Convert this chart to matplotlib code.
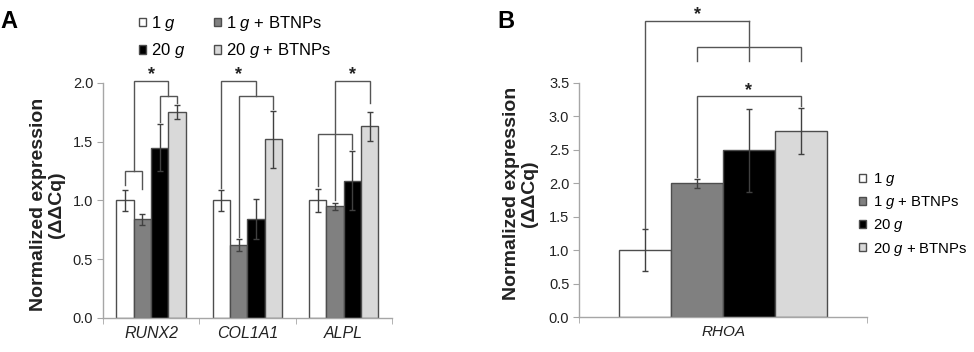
import matplotlib
matplotlib.use("Agg")
import matplotlib.pyplot as plt
import numpy as np

plt.rcParams.update({"font.family": ["Liberation Sans", "DejaVu Sans"],
                     "mathtext.fontset": "custom",
                     "mathtext.rm": "Liberation Sans",
                     "mathtext.it": "Liberation Sans:italic"})

# ---- data ----
groups = ["1 $g$", "1 $g$ + BTNPs", "20 $g$", "20 $g$ + BTNPs"]
colors = ["#ffffff", "#808080", "#000000", "#d9d9d9"]

genes_a = ["RUNX2", "COL1A1", "ALPL"]
a_1g = [1.00, 1.00, 1.00]
a_1g_err = [0.09, 0.09, 0.10]
a_1g_bt = [0.84, 0.62, 0.95]
a_1g_bt_err = [0.045, 0.05, 0.03]
a_20g = [1.45, 0.84, 1.17]
a_20g_err = [0.20, 0.17, 0.25]
a_20g_bt = [1.75, 1.52, 1.63]
a_20g_bt_err = [0.06, 0.24, 0.12]

genes_b = ["RHOA"]
b_vals = [1.00, 2.00, 2.49, 2.78]
b_errs = [0.31, 0.07, 0.62, 0.35]

a_vals = [a_1g, a_1g_bt, a_20g, a_20g_bt]
a_errs = [a_1g_err, a_1g_bt_err, a_20g_err, a_20g_bt_err]

# ---- style ----
INK = "#222222"; EDGE = "#4d4d4d"; SPINE = "#a6a6a6"; LINE = "#555555"
off = [-0.27, -0.09, 0.09, 0.27]
W = 0.18

fig = plt.figure(figsize=(9.74, 3.52), dpi=100)
axA = fig.add_axes([0.1057, 0.0966, 0.2967, 0.7344])
axB = fig.add_axes([0.5945, 0.0994, 0.2957, 0.8835])


def style(ax, n, ytop, ymax, step):
    ax.set_xlim(-0.5, n - 0.5)
    ax.set_ylim(0, ymax)
    for s in ("top", "right"):
        ax.spines[s].set_visible(False)
    for s in ("left", "bottom"):
        ax.spines[s].set_color(SPINE)
        ax.spines[s].set_linewidth(1)
    ax.spines["left"].set_bounds(0, ytop)
    ax.set_yticks(np.arange(0, ytop + 0.01, step))
    ax.set_yticklabels([f"{t:.1f}" for t in np.arange(0, ytop + 0.01, step)])
    ax.set_xticks(np.arange(-0.5, n, 1.0), minor=True)
    ax.tick_params(axis="x", which="major", length=0, pad=6)
    ax.tick_params(axis="x", which="minor", length=4, color=SPINE, direction="out")
    ax.tick_params(axis="y", length=4, color=SPINE, labelsize=10.5, labelcolor=INK, pad=3)


def bars(ax, vals, errs, n):
    x = np.arange(n)
    hs = []
    for k in range(4):
        h = ax.bar(x + off[k], vals[k], W, yerr=errs[k], color=colors[k],
                   edgecolor=EDGE, linewidth=1, label=groups[k], zorder=2,
                   error_kw=dict(ecolor="#404040", elinewidth=1, capsize=2.5, capthick=1))
        hs.append(h)
    return hs


def bracket(ax, x1, x2, y, lo1, lo2):
    ax.plot([x1, x1, x2, x2], [lo1, y, y, lo2], color=LINE, lw=1,
            clip_on=False, zorder=4, solid_joinstyle="miter")


def star(ax, x, y):
    ax.text(x, y, "*", ha="center", va="bottom", fontsize=13, color=INK,
            fontweight="bold", zorder=5)


# ---- panel A ----
hA = bars(axA, a_vals, a_errs, len(genes_a))
style(axA, len(genes_a), 2.0, 2.2, 0.5)
axA.set_xticks(np.arange(len(genes_a)))
axA.set_xticklabels(genes_a, fontsize=11.5, fontstyle="italic", color=INK)
axA.set_ylabel("Normalized expression\n(ΔΔCq)", fontsize=14, fontweight="bold",
               color=INK, linespacing=1.1)
axA.yaxis.set_label_coords(-0.131, 0.439)

bx = lambda c, k: c + off[k]
mid = lambda c, j, k: c + (off[j] + off[k]) / 2
tA = lambda c, k: a_vals[k][c] + a_errs[k][c] + 0.02

# RUNX2
bracket(axA, bx(0, 0), bx(0, 1), 1.25, 1.13, 1.10)
bracket(axA, bx(0, 2), bx(0, 3), 1.89, tA(0, 2), tA(0, 3))
bracket(axA, mid(0, 0, 1), mid(0, 2, 3), 2.02, 1.25, 1.89)
star(axA, 0.0, 2.0)
# COL1A1
bracket(axA, bx(1, 1), bx(1, 3), 1.89, tA(1, 1), tA(1, 3))
bracket(axA, bx(1, 0), mid(1, 1, 3), 2.02, tA(1, 0), 1.89)
star(axA, (bx(1, 0) + mid(1, 1, 3)) / 2, 2.0)
# ALPL
bracket(axA, bx(2, 0), bx(2, 2), 1.57, tA(2, 0), tA(2, 2))
bracket(axA, bx(2, 1), bx(2, 3), 2.02, tA(2, 1), tA(2, 3) + 0.06)
star(axA, mid(2, 1, 3), 2.0)

order = [0, 2, 1, 3]
fig.legend([hA[i] for i in order], [groups[i] for i in order], ncol=2,
           loc="upper left", bbox_to_anchor=(139 / 974, 1 - 14 / 352),
           frameon=False, fontsize=12, handlelength=0.42, handleheight=0.42,
           handletextpad=0.3, columnspacing=1.7, labelspacing=0.5,
           borderpad=0, borderaxespad=0)

# ---- panel B ----
b_cols = [[v] for v in b_vals]
b_err_cols = [[e] for e in b_errs]
hB = bars(axB, b_cols, b_err_cols, 1)
style(axB, 1, 3.5, 4.65, 0.5)
axB.set_xticks([0])
axB.set_xticklabels(genes_b, fontsize=11, fontstyle="italic", color=INK)
axB.set_ylabel("Normalized expression\n(ΔΔCq)", fontsize=14, fontweight="bold",
               color=INK, linespacing=1.1)
axB.yaxis.set_label_coords(-0.142, 0.397)

tB = lambda k: b_vals[k] + b_errs[k] + 0.02
bracket(axB, off[1], off[3], 3.30, tB(1), tB(3))
star(axB, mid(0, 1, 3), 3.26)
bracket(axB, off[1], off[3], 4.03, 3.83, 3.83)
axB.plot([mid(0, 1, 3)] * 2, [3.83, 4.42], color=LINE, lw=1, clip_on=False, zorder=4)
bracket(axB, off[0], mid(0, 1, 3), 4.42, tB(0), 4.42)
star(axB, (off[0] + mid(0, 1, 3)) / 2, 4.40)

axB.legend(handles=hB, labels=groups, loc="upper left",
           bbox_to_anchor=(0.972, 0.47), frameon=False, fontsize=10.7,
           handlelength=0.45, handleheight=0.45, handletextpad=0.5,
           labelspacing=0.42, borderpad=0, borderaxespad=0)

# panel letters
fig.text(0 / 974, 1 - 28 / 352, "A", fontsize=17, fontweight="bold", color="#000000")
fig.text(497 / 974, 1 - 28 / 352, "B", fontsize=17, fontweight="bold", color="#000000")

fig.savefig("out.png", dpi=100, facecolor="white")
